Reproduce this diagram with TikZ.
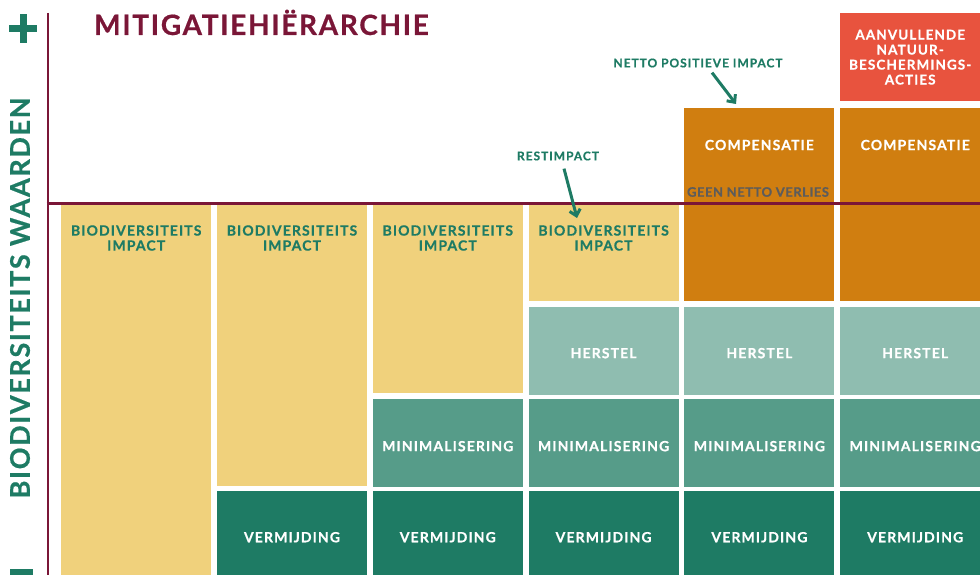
\documentclass[tikz,border=0pt]{standalone}
\usepackage{fontspec}
\setmainfont{Lato}
\newfontfamily\widefont{Lato}[LetterSpace=8, BoldFeatures={FakeBold=0.6}]
\newfontfamily\titlefont{Lato}[LetterSpace=6, BoldFeatures={FakeBold=0.6}]
\newfontfamily\verliesfont{Lato}[LetterSpace=4, BoldFeatures={FakeBold=0.6}]
\usetikzlibrary{arrows.meta}

\definecolor{wine}{HTML}{7A1637}
\definecolor{impactyellow}{HTML}{F0D17C}
\definecolor{herstelteal}{HTML}{8FBDB0}
\definecolor{minimalteal}{HTML}{569C89}
\definecolor{vermgreen}{HTML}{1E7B64}
\definecolor{comporange}{HTML}{D07E10}
\definecolor{extrared}{HTML}{E8533E}
\definecolor{verliesgrey}{HTML}{5C5C5C}

\tikzset{
  box/.style={anchor=north west, inner sep=0pt, minimum width=150pt,
    text=white, font=\widefont\bfseries\fontsize{14}{15}\selectfont},
  boxlabel/.style={text=white, inner sep=0pt, font=\widefont\bfseries\fontsize{14}{15}\selectfont},
  impactlabel/.style={text=vermgreen, inner sep=0pt, align=center,
    font=\widefont\bfseries\fontsize{14}{15}\selectfont},
  note/.style={text=vermgreen, inner sep=0pt, font=\widefont\bfseries\fontsize{12}{13}\selectfont},
  pointer/.style={draw=vermgreen, line width=3pt, -{Straight Barb[length=6pt,width=11pt]}},
  axisline/.style={draw=wine, line width=2.5pt}
}

\begin{document}
\begin{tikzpicture}[x=1pt,y=-1pt]
	\newcommand\pitch{155.8};
	\newcommand\boxw{150};
	\clip (0,0) rectangle (980,575);
	% yellow impact columns
	\foreach \i/\b in {1/583,2/486,3/393,4/301} {
		\pgfmathsetmacro\colx{61+(\i-1)*\pitch}
		\node[box, fill=impactyellow, minimum height={(\b-205)*1pt}] (imp\i) at (\colx,205) {};
		\node[impactlabel] (imp\i lbl) at ([yshift=-33pt]imp\i.north) {BIODIVERSITEITS\\IMPACT};
	}
	% mitigation steps
	\foreach \i in {2,...,6} {
		\pgfmathsetmacro\colx{61+(\i-1)*\pitch}
		\node[box, fill=vermgreen, minimum height=92pt] (verm\i) at (\colx,491) {VERMIJDING};
	}
	\foreach \i in {3,...,6} {
		\pgfmathsetmacro\colx{61+(\i-1)*\pitch}
		\node[box, fill=minimalteal, minimum height=88pt, text height=16pt, text depth=0pt] (min\i) at (\colx,399) {MINIMALISERING};
	}
	\foreach \i in {4,...,6} {
		\pgfmathsetmacro\colx{61+(\i-1)*\pitch}
		\node[box, fill=herstelteal, minimum height=88pt, text height=14pt, text depth=0pt] (her\i) at (\colx,307) {HERSTEL};
	}
	\foreach \i in {5,6} {
		\pgfmathsetmacro\colx{61+(\i-1)*\pitch}
		\node[box, fill=comporange, minimum height=193pt] (comp\i) at (\colx,108) {};
		\node[boxlabel] (comp\i lbl) at ([yshift=-37pt]comp\i.north) {COMPENSATIE};
	}
	\node[box, fill=extrared, minimum height=88pt, minimum width=140pt, align=center,
		font=\widefont\bfseries\fontsize{13.5}{15}\selectfont] (extra) at (840,13)
		{AANVULLENDE\\NATUUR-\\BESCHERMINGS-\\ACTIES};
	% axes
	\draw[axisline] (47.8,13) -- (47.8,580);
	\draw[axisline] (46.5,203.3) -- (985,203.3);
	\fill[vermgreen] (9,25.5) rectangle (37,32.5);
	\fill[vermgreen] (19.5,14) rectangle (26.5,43);
	\fill[vermgreen] (10,569) rectangle (33,583);
	\node[rotate=90, text=vermgreen, inner sep=0pt, font=\titlefont\bfseries\fontsize{27}{30}\selectfont]
		(axis) at (20,298) {BIODIVERSITEITS WAARDEN};
	\node[anchor=base west, text=wine, inner sep=0pt, font=\titlefont\bfseries\fontsize{28}{30}\selectfont]
		(title) at (94,35) {MITIGATIEHIËRARCHIE};
	% notes
	\node[text=verliesgrey, inner sep=0pt, font=\verliesfont\bfseries\fontsize{13}{15}\selectfont]
		(verlies) at (758,192) {GEEN NETTO VERLIES};
	\node[note] (rest) at (558,156) {RESTIMPACT};
	\node[note] (positief) at (698,63) {NETTO POSITIEVE IMPACT};
	\coordinate (restend) at (577,218);
	\coordinate (positiefend) at (736,104);
	\draw[pointer] ([xshift=6pt,yshift=-8pt]rest.south) -- (restend);
	\draw[pointer] ([xshift=14pt,yshift=-5pt]positief.south) -- (positiefend);
\end{tikzpicture}
\end{document}
